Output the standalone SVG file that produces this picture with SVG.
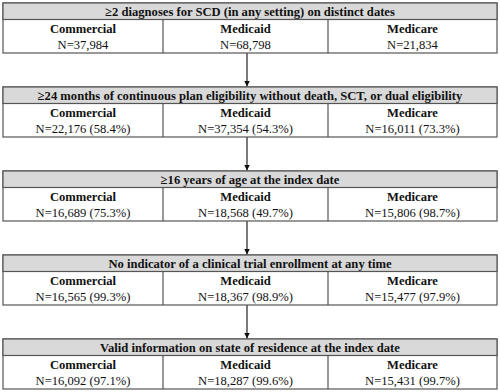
<svg xmlns="http://www.w3.org/2000/svg" width="500" height="392" viewBox="0 0 500 392">
<defs>
<style>
.box{fill:#fff;stroke:#555;stroke-width:1.2}
.hdr{fill:#d9d9d9;stroke:#555;stroke-width:1.2}
.div{stroke:#555;stroke-width:1.2}
text{font-family:"Liberation Serif","Times New Roman",serif;font-size:12.6px;fill:#111;text-anchor:middle}
.b{font-weight:bold}
.conn{stroke:#222;stroke-width:1.2;fill:none}
</style>
<marker id="ah" viewBox="0 0 8 8" refX="8" refY="4" markerWidth="6" markerHeight="6" markerUnits="userSpaceOnUse" orient="auto"><path d="M0,0L8,4L0,8z" fill="#111"/></marker>
</defs>
<rect width="500" height="392" fill="#fff"/>
<g id="connectors">
<line class="conn" x1="247" y1="53" x2="247" y2="86.5" marker-end="url(#ah)"/>
<line class="conn" x1="247" y1="137" x2="247" y2="170.5" marker-end="url(#ah)"/>
<line class="conn" x1="247" y1="221" x2="247" y2="254.5" marker-end="url(#ah)"/>
<line class="conn" x1="247" y1="305" x2="247" y2="338.5" marker-end="url(#ah)"/>
</g>
<g id="step1" transform="translate(0,3)">
<rect class="box" x="3" y="0" width="494" height="50"/>
<rect class="hdr" x="3" y="0" width="494" height="16.5"/>
<line class="div" x1="163" y1="16.5" x2="163" y2="50"/>
<line class="div" x1="328" y1="16.5" x2="328" y2="50"/>
<text class="b" x="250" y="13">≥2 diagnoses for SCD (in any setting) on distinct dates</text>
<text class="b" x="83" y="30">Commercial</text><text x="83" y="45.5">N=37,984</text>
<text class="b" x="245.5" y="30">Medicaid</text><text x="245.5" y="45.5">N=68,798</text>
<text class="b" x="412.5" y="30">Medicare</text><text x="412.5" y="45.5">N=21,834</text>
</g>
<g id="step2" transform="translate(0,87)">
<rect class="box" x="3" y="0" width="494" height="50"/>
<rect class="hdr" x="3" y="0" width="494" height="16.5"/>
<line class="div" x1="163" y1="16.5" x2="163" y2="50"/>
<line class="div" x1="328" y1="16.5" x2="328" y2="50"/>
<text class="b" x="250" y="13">≥24 months of continuous plan eligibility without death, SCT, or dual eligibility</text>
<text class="b" x="83" y="30">Commercial</text><text x="83" y="45.5">N=22,176 (58.4%)</text>
<text class="b" x="245.5" y="30">Medicaid</text><text x="245.5" y="45.5">N=37,354 (54.3%)</text>
<text class="b" x="412.5" y="30">Medicare</text><text x="412.5" y="45.5">N=16,011 (73.3%)</text>
</g>
<g id="step3" transform="translate(0,171)">
<rect class="box" x="3" y="0" width="494" height="50"/>
<rect class="hdr" x="3" y="0" width="494" height="16.5"/>
<line class="div" x1="163" y1="16.5" x2="163" y2="50"/>
<line class="div" x1="328" y1="16.5" x2="328" y2="50"/>
<text class="b" x="250" y="13">≥16 years of age at the index date</text>
<text class="b" x="83" y="30">Commercial</text><text x="83" y="45.5">N=16,689 (75.3%)</text>
<text class="b" x="245.5" y="30">Medicaid</text><text x="245.5" y="45.5">N=18,568 (49.7%)</text>
<text class="b" x="412.5" y="30">Medicare</text><text x="412.5" y="45.5">N=15,806 (98.7%)</text>
</g>
<g id="step4" transform="translate(0,255)">
<rect class="box" x="3" y="0" width="494" height="50"/>
<rect class="hdr" x="3" y="0" width="494" height="16.5"/>
<line class="div" x1="163" y1="16.5" x2="163" y2="50"/>
<line class="div" x1="328" y1="16.5" x2="328" y2="50"/>
<text class="b" x="250" y="13">No indicator of a clinical trial enrollment at any time</text>
<text class="b" x="83" y="30">Commercial</text><text x="83" y="45.5">N=16,565 (99.3%)</text>
<text class="b" x="245.5" y="30">Medicaid</text><text x="245.5" y="45.5">N=18,367 (98.9%)</text>
<text class="b" x="412.5" y="30">Medicare</text><text x="412.5" y="45.5">N=15,477 (97.9%)</text>
</g>
<g id="step5" transform="translate(0,339)">
<rect class="box" x="3" y="0" width="494" height="50"/>
<rect class="hdr" x="3" y="0" width="494" height="16.5"/>
<line class="div" x1="163" y1="16.5" x2="163" y2="50"/>
<line class="div" x1="328" y1="16.5" x2="328" y2="50"/>
<text class="b" x="250" y="13">Valid information on state of residence at the index date</text>
<text class="b" x="83" y="30">Commercial</text><text x="83" y="45.5">N=16,092 (97.1%)</text>
<text class="b" x="245.5" y="30">Medicaid</text><text x="245.5" y="45.5">N=18,287 (99.6%)</text>
<text class="b" x="412.5" y="30">Medicare</text><text x="412.5" y="45.5">N=15,431 (99.7%)</text>
</g>
</svg>
